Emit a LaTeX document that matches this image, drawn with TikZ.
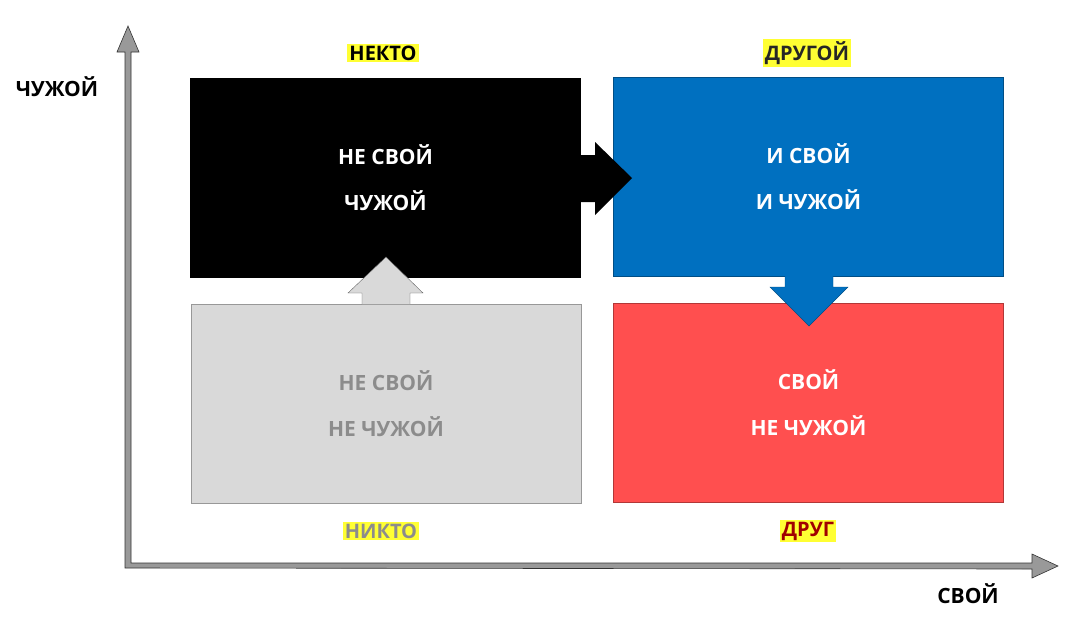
\documentclass[tikz,border=0pt]{standalone}
\usepackage{fontspec}
\setmainfont{Open Sans}
\usetikzlibrary{arrows.meta}
\definecolor{boxblue}{HTML}{0070C0}
\definecolor{boxred}{HTML}{FF4F4F}
\definecolor{boxgray}{HTML}{D9D9D9}
\definecolor{txtgray}{HTML}{8C8C8C}
\definecolor{hl}{HTML}{FFFF33}
\definecolor{darkred}{HTML}{A00000}

\begin{document}
\begin{tikzpicture}[x=1pt, y=-1pt, line join=miter]

  % Styles
  \tikzset{
    quad/.style={draw=#1!70!black, fill=#1, minimum width=390pt, minimum height=199pt,
      inner sep=0pt, align=center, font=\fontsize{21}{46}\selectfont\bfseries},
    tag/.style={fill=hl, inner sep=2pt, font=\fontsize{20}{24}\selectfont\bfseries},
    axislabel/.style={font=\fontsize{21}{24}\selectfont\bfseries},
    axis/.style={draw=black!80, fill=gray!80, line width=0.6pt},
  }

  \useasboundingbox (0,0) rectangle (1084,630);

  % Axes
  \draw[axis] (125,568) -- (125,52) -- (117,52) -- (128,26) -- (139,52) -- (131,52)
    -- (131,563) -- (1032,563) -- (1032,554) -- (1058,566) -- (1032,578) -- (1032,569) -- cycle;

  % Quadrants
  \node[quad=black, text=white] (nekto) at (385.5,178) {НЕ СВОЙ\\ЧУЖОЙ};
  \node[quad=boxblue, text=white] (drugoy) at (808.5,177) {И СВОЙ\\И ЧУЖОЙ};
  \node[quad=boxgray, text=txtgray] (nikto) at (386,403.5) {НЕ СВОЙ\\НЕ ЧУЖОЙ};
  \node[quad=boxred, text=white] (drug) at (808.5,403) {СВОЙ\\НЕ ЧУЖОЙ};

  % Block arrows
  \fill[black] (579,155) -- (595,155) -- (595,142) -- (632,178) -- (595,215) -- (595,202)
    -- (579,202) -- cycle;
  \draw[black!60, fill=boxgray] (362,304) -- (362,293) -- (348,293) -- (386,257) -- (423,293)
    -- (410,293) -- (410,304);
  \draw[boxblue!70!black, fill=boxblue] (785,276) -- (785,287) -- (770,287) -- (809,326)
    -- (848,287) -- (833,287) -- (833,276);

  % Labels
  \node[tag] (lnekto) at (383,53) {НЕКТО};
  \node[tag, text=black!85] (ldrugoy) at (807,53) {ДРУГОЙ};
  \node[tag, text=txtgray] (lnikto) at (381,531) {НИКТО};
  \node[tag, text=darkred] (ldrug) at (808,531) {ДРУГ};

  \node[axislabel] (ychuzh) at (57,87) {ЧУЖОЙ};
  \node[axislabel] (xsvoy) at (968,594) {СВОЙ};

\end{tikzpicture}
\end{document}
